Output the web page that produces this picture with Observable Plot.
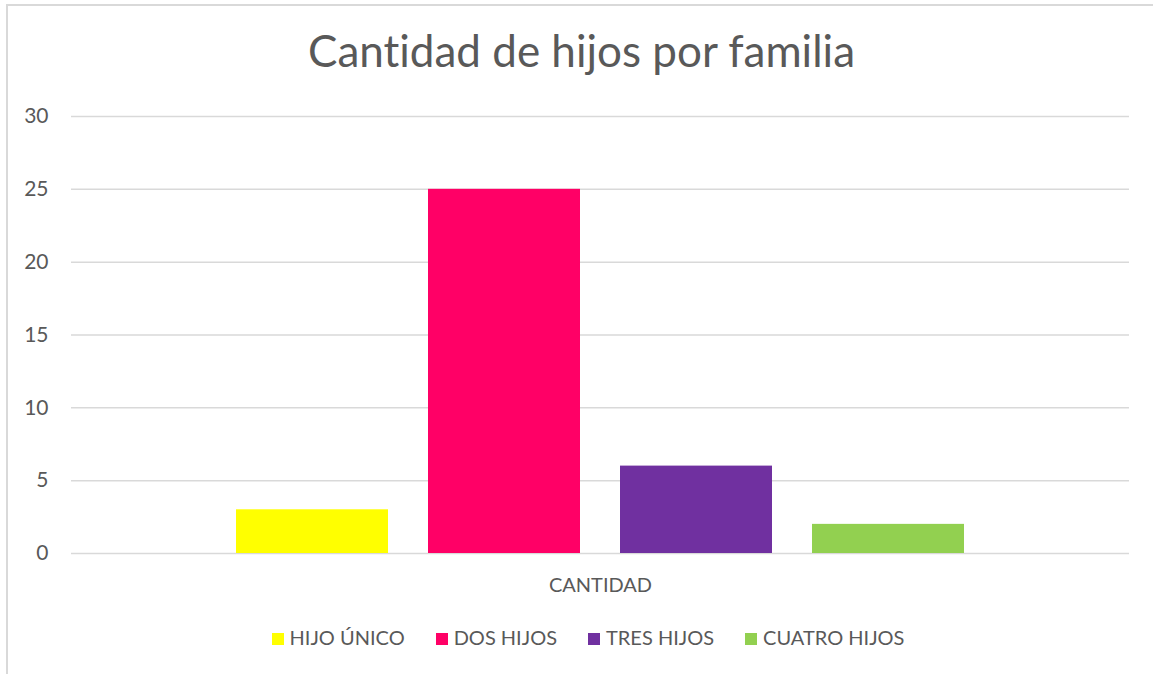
<!DOCTYPE html>
<html>
<head>
<meta charset="utf-8">
<script src="https://cdn.jsdelivr.net/npm/d3@7"></script>
<script src="https://cdn.jsdelivr.net/npm/@observablehq/plot@0.6"></script>
<style>
  html, body { margin: 0; padding: 0; background: #fff; overflow: hidden; }
  body { width: 1153px; height: 674px; position: relative; font-family: Lato, "Open Sans", sans-serif;
         font-variant-ligatures: none; }
  #frame { position: absolute; left: 6px; top: 4px; width: 1200px; height: 700px;
           border-left: 2px solid #d9d9d9; border-top: 2px solid #d9d9d9; }
  #title { position: absolute; left: 10px; width: 1143px; top: 24px; text-align: center;
           font-size: 44px; line-height: 53px; color: #595959; white-space: nowrap; }
  #chart { position: absolute; left: 0; top: 90px; }
  #legend { position: absolute; left: 23px; width: 1130px; top: 625px; display: flex;
            justify-content: center; gap: 31px; font-size: 20px; line-height: 24px; color: #595959; }
  .item { display: flex; align-items: baseline; gap: 6px; white-space: nowrap; }
  .sw { display: inline-block; width: 12px; height: 12px; }
</style>
</head>
<body>
<div id="frame"></div>
<div id="title">Cantidad de hijos por familia</div>
<div id="chart"></div>
<div id="legend"></div>
<script>
const categorias = ["CANTIDAD"];
const series = ["HIJO ÚNICO", "DOS HIJOS", "TRES HIJOS", "CUATRO HIJOS"];
const valores = [3, 25, 6, 2];
const colores = ["#FFFF00", "#FF0066", "#7030A0", "#92D050"];
const ticksY = [0, 5, 10, 15, 20, 25, 30];

const data = series.map((s, i) => ({categoria: categorias[0], serie: s, valor: valores[i]}));

const chart = Plot.plot({
  width: 1153,
  height: 520,
  marginLeft: 71,
  marginRight: 24,
  marginTop: 26,
  marginBottom: 57,
  style: {fontFamily: "Lato, 'Open Sans', sans-serif", color: "#595959", background: "transparent"},
  fx: {domain: categorias, padding: 0, label: null},
  x: {domain: series, paddingInner: 0.2083, paddingOuter: 0.859, axis: null},
  y: {domain: [0, 30], ticks: ticksY, label: null},
  color: {domain: series, range: colores},
  marks: [
    Plot.gridY(ticksY, {stroke: "#d9d9d9", strokeOpacity: 1, strokeWidth: 1.5}),
    Plot.barY(data, {fx: "categoria", x: "serie", y: "valor", fill: "serie"}),
    Plot.axisY(ticksY, {tickSize: 0, tickPadding: 23, fontSize: 21, label: null, fill: "#595959"}),
    Plot.axisFx({anchor: "bottom", tickSize: 0, tickPadding: 24, fontSize: 20, label: null, fill: "#595959"})
  ]
});
document.getElementById("chart").appendChild(chart);

const legend = document.getElementById("legend");
series.forEach((s, i) => {
  const item = document.createElement("div");
  item.className = "item";
  const sw = document.createElement("span");
  sw.className = "sw";
  sw.style.background = colores[i];
  const label = document.createElement("span");
  label.textContent = s;
  item.appendChild(sw);
  item.appendChild(label);
  legend.appendChild(item);
});
</script>
</body>
</html>
